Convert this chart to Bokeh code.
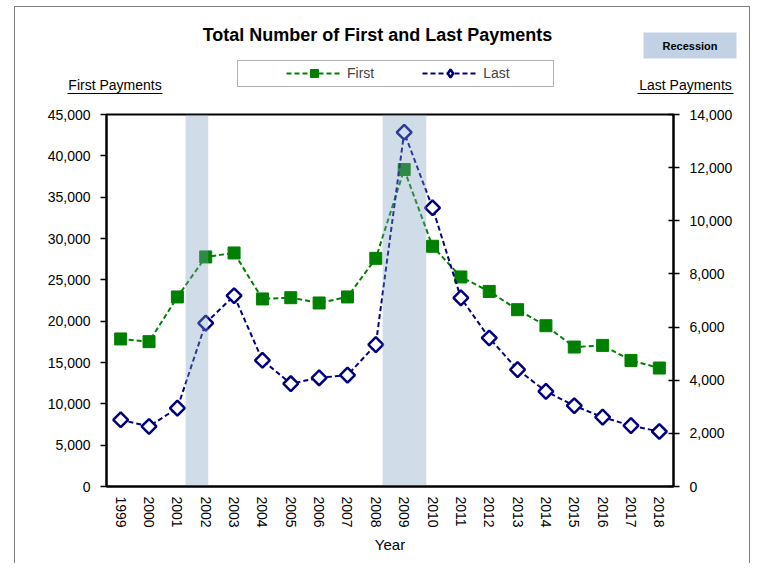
import numpy as np
from bokeh.plotting import figure
from bokeh.models import (Range1d, LinearAxis, FixedTicker, NumeralTickFormatter,
                          Label, BoxAnnotation, Legend, LegendItem)
from bokeh.embed import file_html
from bokeh.resources import INLINE

# ---- data ----
years = list(range(1999, 2019))
first_payments = [17850, 17520, 22930, 27770, 28250, 22690, 22840, 22200, 22930, 27600,
                  38340, 29060, 25350, 23600, 21390, 19450, 16870, 17070, 15250, 14330]
last_payments = [2510, 2260, 2950, 6150, 7180, 4750, 3870, 4090, 4190, 5340,
                 13330, 10490, 7100, 5590, 4400, 3580, 3040, 2610, 2290, 2070]
recession_start = [2001.29, 2008.24]
recession_end = [2002.09, 2009.78]
left_ticks = list(range(0, 45001, 5000))
right_ticks = list(range(0, 14001, 2000))

FONT = "Liberation Sans"
GREEN = "#008000"
NAVY = "#000080"
W = 736
H_HEAD = 93
H_MAIN = 464
BORDER = "1px solid #808080"

# =================== header (title, legend, key, axis titles) ===================
h = figure(width=W, height=H_HEAD, output_backend="svg", toolbar_location=None,
           x_range=Range1d(0, W), y_range=Range1d(H_HEAD, 0),
           x_axis_type=None, y_axis_type=None,
           min_border_left=0, min_border_right=0, min_border_top=0, min_border_bottom=0)
h.xgrid.visible = False
h.ygrid.visible = False
h.outline_line_color = None
h.background_fill_color = "white"
h.border_fill_color = "white"
h.styles = {"border-top": BORDER, "border-left": BORDER, "border-right": BORDER,
            "margin-left": "14px", "margin-top": "6px"}

def hbox(left, right, top, bottom, **kw):
    h.add_layout(BoxAnnotation(left=left, right=right, top=top, bottom=bottom, **kw))

def hlabel(x, y, text, size, bold=False):
    h.add_layout(Label(x=x, y=y, text=text, text_font=FONT, text_font_size=size,
                       text_font_style="bold" if bold else "normal",
                       text_align="center", text_baseline="middle", text_color="black"))

hlabel(362, 27, "Total Number of First and Last Payments", "18px", True)
# recession key
hbox(628, 721, 25, 51, fill_color="#C3D1E4", fill_alpha=1, line_color=None)
hlabel(674.5, 38, "Recession", "11px", True)
# axis titles with underline
hlabel(99.5, 77, "First Payments", "14px")
hbox(52, 147, 85.5, 86.5, fill_color="black", fill_alpha=1, line_color=None)
hlabel(670, 77, "Last Payments", "14px")
hbox(622, 718, 85.5, 86.5, fill_color="black", fill_alpha=1, line_color=None)
# legend frame
hbox(222, 538, 53, 79, fill_color=None, line_color="black", line_width=1)

# legend sample renderers (a single empty point, only their style is used)
lg1 = h.line(x=[np.nan], y=[np.nan], line_color=GREEN, line_width=2, line_dash="5 3")
lg1s = h.scatter(x=[np.nan], y=[np.nan], marker="square", size=12,
                 fill_color=GREEN, line_color=GREEN)
lg2 = h.line(x=[np.nan], y=[np.nan], line_color=NAVY, line_width=2, line_dash="5 3")
lg2s = h.scatter(x=[np.nan], y=[np.nan], marker="diamond", size=12,
                 fill_color="white", line_color=NAVY, line_width=2.5)
legend = Legend(items=[LegendItem(label="First", renderers=[lg1, lg1s]),
                       LegendItem(label="Last", renderers=[lg2, lg2s])],
                orientation="horizontal", location=(271, 17), padding=0, margin=0,
                spacing=48, glyph_width=56, glyph_height=20, label_height=20,
                label_standoff=5, border_line_color=None, background_fill_alpha=0,
                label_text_font=FONT, label_text_font_size="14px")
h.add_layout(legend)

# =================== main chart ===================
p = figure(width=W, height=H_MAIN, output_backend="svg", toolbar_location=None,
           x_range=Range1d(1998.5, 2018.5), y_range=Range1d(0, 45000),
           min_border_left=91, min_border_right=78, min_border_top=15,
           min_border_bottom=77)
p.extra_y_ranges = {"last": Range1d(0, 14000)}
p.xgrid.visible = False
p.ygrid.visible = False
p.outline_line_color = "black"
p.outline_line_width = 2
p.background_fill_color = "white"
p.border_fill_color = "white"
p.styles = {"border-left": BORDER, "border-right": BORDER, "margin-left": "14px"}

# left axis
ya = p.yaxis[0]
ya.ticker = FixedTicker(ticks=left_ticks)
ya.formatter = NumeralTickFormatter(format="0,0")
ya.major_tick_out = 6
ya.major_tick_in = 0
ya.minor_tick_line_color = None
ya.axis_line_width = 2
ya.major_tick_line_width = 1.5
ya.major_label_standoff = 10
ya.major_label_text_font = FONT
ya.major_label_text_font_size = "14px"
ya.major_label_text_color = "black"

# right axis
ra = LinearAxis(y_range_name="last", ticker=FixedTicker(ticks=right_ticks),
                formatter=NumeralTickFormatter(format="0,0"))
ra.major_tick_out = 6
ra.major_tick_in = 5
ra.minor_tick_line_color = None
ra.axis_line_width = 2
ra.major_tick_line_width = 1.5
ra.major_label_standoff = 10
ra.major_label_text_font = FONT
ra.major_label_text_font_size = "14px"
ra.major_label_text_color = "black"
p.add_layout(ra, "right")

# x axis
xa = p.xaxis[0]
xa.ticker = FixedTicker(ticks=years)
xa.major_label_orientation = "vertical"
xa.major_tick_line_color = None
xa.major_tick_out = 0
xa.major_tick_in = 0
xa.minor_tick_line_color = None
xa.axis_line_width = 2
xa.major_label_standoff = 10
xa.major_label_text_font = FONT
xa.major_label_text_font_size = "14px"
xa.major_label_text_color = "black"
xa.axis_label = "Year"
xa.axis_label_text_font = FONT
xa.axis_label_text_font_size = "15px"
xa.axis_label_text_font_style = "normal"
xa.axis_label_text_color = "black"
xa.axis_label_standoff = 5

# series
p.line(years, first_payments, line_color=GREEN, line_width=2, line_dash="5 3")
p.scatter(years, first_payments, marker="square", size=12,
          fill_color=GREEN, line_color=GREEN)
p.line(years, last_payments, y_range_name="last", line_color=NAVY,
       line_width=2, line_dash="5 3")
p.scatter(years, last_payments, y_range_name="last", marker="square",
          angle=np.pi / 4, size=10.5, fill_color="white", line_color=NAVY,
          line_width=2.5)

# recession bands (drawn over the lines, semi transparent)
p.quad(left=recession_start, right=recession_end, bottom=0, top=45000,
       fill_color="#7E9EBF", fill_alpha=0.36, line_color=None)

open("out.html", "w").write(file_html([h, p], INLINE))
